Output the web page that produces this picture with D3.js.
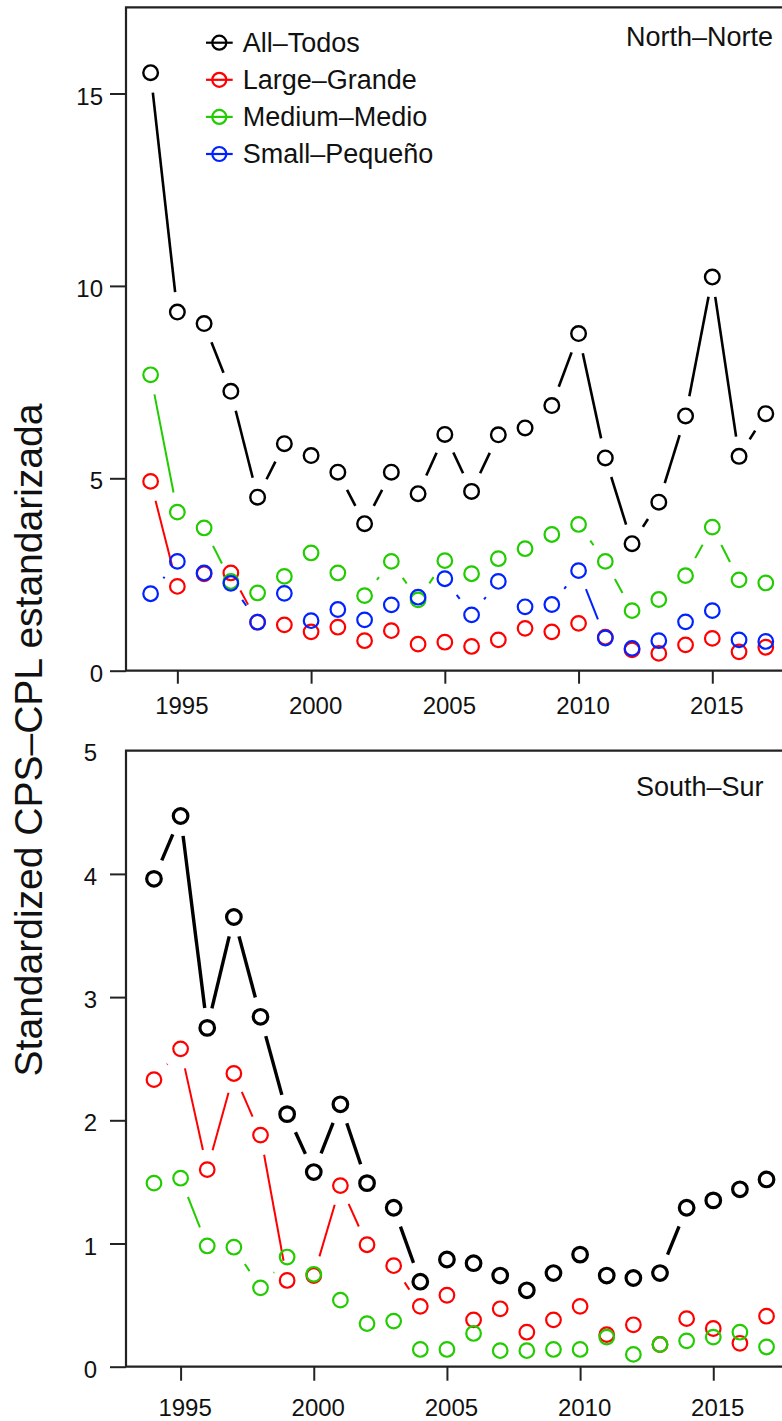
<!DOCTYPE html>
<html>
<head>
<meta charset="utf-8">
<script src="https://cdn.jsdelivr.net/npm/d3@7"></script>
<style>
  html, body { margin: 0; padding: 0; background: #fff; }
  svg { display: block; font-family: "Liberation Sans", Arial, Helvetica, sans-serif; }
</style>
</head>
<body>
<svg id="chart" width="782" height="1421"></svg>
<script>
// Years of the standardized CPUE series
const years = [1994, 1995, 1996, 1997, 1998, 1999, 2000, 2001, 2002, 2003, 2004, 2005,
               2006, 2007, 2008, 2009, 2010, 2011, 2012, 2013, 2014, 2015, 2016, 2017];

// North–Norte
const northAll    = [15.54, 9.32, 9.02, 7.26, 4.51, 5.90, 5.59, 5.16, 3.82, 5.16, 4.60, 6.14,
                     4.66, 6.13, 6.31, 6.89, 8.76, 5.53, 3.30, 4.38, 6.62, 10.23, 5.57, 6.68];
const northLarge  = [4.92, 2.19, 2.52, 2.54, 1.26, 1.19, 1.01, 1.13, 0.78, 1.04, 0.69, 0.74,
                     0.63, 0.80, 1.10, 1.01, 1.23, 0.87, 0.54, 0.45, 0.67, 0.84, 0.49, 0.61];
const northMedium = [7.69, 4.12, 3.71, 2.32, 2.02, 2.45, 3.06, 2.54, 1.95, 2.84, 1.84, 2.86,
                     2.52, 2.91, 3.17, 3.54, 3.80, 2.84, 1.56, 1.85, 2.47, 3.73, 2.36, 2.28];
const northSmall  = [2.00, 2.84, 2.54, 2.27, 1.26, 2.01, 1.30, 1.59, 1.32, 1.71, 1.91, 2.39,
                     1.45, 2.32, 1.66, 1.72, 2.60, 0.85, 0.58, 0.78, 1.27, 1.56, 0.80, 0.76];

// South–Sur
const southAll    = [3.96, 4.47, 2.75, 3.65, 2.84, 2.05, 1.58, 2.13, 1.49, 1.29, 0.69, 0.87,
                     0.84, 0.74, 0.62, 0.76, 0.91, 0.74, 0.72, 0.76, 1.29, 1.35, 1.44, 1.52];
const southLarge  = [2.33, 2.58, 1.60, 2.38, 1.88, 0.70, 0.74, 1.47, 0.99, 0.82, 0.49, 0.58,
                     0.38, 0.47, 0.28, 0.38, 0.49, 0.26, 0.34, 0.18, 0.39, 0.31, 0.19, 0.41];
const southMedium = [1.49, 1.53, 0.98, 0.97, 0.64, 0.89, 0.75, 0.54, 0.35, 0.37, 0.14, 0.14,
                     0.27, 0.13, 0.13, 0.14, 0.14, 0.24, 0.10, 0.18, 0.21, 0.24, 0.28, 0.16];

const legendLabels = ["All\u2013Todos", "Large\u2013Grande", "Medium\u2013Medio", "Small\u2013Peque\u00f1o"];
const seriesColors = ["#000000", "#ff0000", "#22cc00", "#0022ff"];

const xTicks = [1995, 2000, 2005, 2010, 2015];
const northYTicks = [0, 5, 10, 15];
const southYTicks = [0, 1, 2, 3, 4];
const yTitle = "Standardized CPS\u2013CPL estandarizada";

const svg = d3.select("#chart");
svg.append("rect").attr("width", 782).attr("height", 1421).attr("fill", "#fff");

const GAP = 20;      // distance kept clear around each point (type "b" style)
const R = 7.3;       // point radius

function drawSeries(g, x, y, values, color, lw, pw) {
  const pts = values.map((v, i) => [x(years[i]), y(v)]);
  // gapped connecting segments
  for (let i = 0; i < pts.length - 1; i++) {
    const [x0, y0] = pts[i], [x1, y1] = pts[i + 1];
    const dx = x1 - x0, dy = y1 - y0, L = Math.hypot(dx, dy);
    if (L <= 2 * GAP) continue;
    const ux = dx / L, uy = dy / L;
    g.append("line")
      .attr("x1", x0 + ux * GAP).attr("y1", y0 + uy * GAP)
      .attr("x2", x1 - ux * GAP).attr("y2", y1 - uy * GAP)
      .attr("stroke", color).attr("stroke-width", lw).attr("stroke-linecap", "butt");
  }
  g.selectAll(null).data(pts).enter().append("circle")
    .attr("cx", d => d[0]).attr("cy", d => d[1]).attr("r", R)
    .attr("fill", "none").attr("stroke", color).attr("stroke-width", pw);
}

function drawPanel(opt) {
  const g = svg.append("g");
  const x = d3.scaleLinear().domain(opt.xDomain).range([126, opt.xRight]);
  const y = d3.scaleLinear().domain(opt.yDomain).range([opt.bottom, opt.top]);

  // box
  g.append("path")
    .attr("d", `M${opt.xRight + 10},${opt.top}H126V${opt.bottom}H${opt.xRight + 10}`)
    .attr("fill", "none").attr("stroke", "#222").attr("stroke-width", 2.2);

  // y axis
  const ya = g.append("g").attr("transform", "translate(126,0)")
    .call(d3.axisLeft(y).tickValues(opt.yTicks).tickSize(16).tickPadding(opt.yPad).tickFormat(d3.format("d")));
  ya.select(".domain").remove();
  ya.selectAll(".tick line").attr("stroke", "#222").attr("stroke-width", 2);
  ya.selectAll(".tick text").attr("font-size", 24).attr("fill", "#111").attr("dy", "0.44em")
    .attr("font-family", "'Liberation Sans', Arial, sans-serif");
  if (opt.extraYLabel !== undefined) {
    g.append("text").attr("x", 126 - 16 - opt.yPad).attr("y", y(opt.extraYLabel))
      .attr("dy", "0.44em").attr("text-anchor", "end").attr("font-size", 24).attr("fill", "#111")
      .text(opt.extraYLabel);
  }

  // x axis
  const xa = g.append("g").attr("transform", `translate(0,${opt.bottom})`)
    .call(d3.axisBottom(x).tickValues(xTicks).tickSize(opt.xTick).tickPadding(opt.xPad).tickFormat(d3.format("d")));
  xa.select(".domain").remove();
  xa.selectAll(".tick line").attr("stroke", "#222").attr("stroke-width", 2);
  xa.selectAll(".tick text").attr("font-size", 24).attr("fill", "#111").attr("dx", 4)
    .attr("font-family", "'Liberation Sans', Arial, sans-serif");

  // series (drawn in legend order so smaller size classes sit on top)
  opt.series.forEach((s, i) => drawSeries(g, x, y, s, seriesColors[i], i === 0 ? opt.blackLw : 2, i === 0 ? opt.blackPw : 2.2));

  // region label
  g.append("text").attr("x", opt.labelX).attr("y", opt.labelY)
    .attr("font-size", 27).attr("fill", "#111").text(opt.label);
  return g;
}

// North–Norte panel
const north = drawPanel({
  xDomain: [1993.08, 2017.92], xRight: 790.4,
  yDomain: [0, 17.24], top: 7.3, bottom: 670.7,
  yTicks: northYTicks, yPad: 7, xTick: 13, xPad: 13,
  series: [northAll, northLarge, northMedium, northSmall],
  blackLw: 2.6, blackPw: 2.4,
  label: "North\u2013Norte", labelX: 626, labelY: 46
});

// South–Sur panel
drawPanel({
  xDomain: [1992.95, 2018.05], xRight: 794.5,
  yDomain: [0, 5], top: 750.7, bottom: 1366.7,
  yTicks: southYTicks, yPad: 13, xTick: 14, xPad: 18,
  extraYLabel: 5,
  series: [southAll, southLarge, southMedium],
  blackLw: 3.4, blackPw: 3.2,
  label: "South\u2013Sur", labelX: 636, labelY: 796
});

// legend (north panel)
const leg = svg.append("g");
legendLabels.forEach((t, i) => {
  const cy = 42.7 + i * 37.1;
  leg.append("line").attr("x1", 206).attr("x2", 232.7).attr("y1", cy).attr("y2", cy)
    .attr("stroke", seriesColors[i]).attr("stroke-width", 2.2);
  leg.append("circle").attr("cx", 219.3).attr("cy", cy).attr("r", 7)
    .attr("fill", "none").attr("stroke", seriesColors[i]).attr("stroke-width", 2.2);
  leg.append("text").attr("x", 242.7).attr("y", cy + 9.2)
    .attr("font-size", 27).attr("fill", "#111").text(t);
});

// shared y-axis title
svg.append("text")
  .attr("transform", "translate(42,740) rotate(-90)")
  .attr("text-anchor", "middle").attr("font-size", 39).attr("fill", "#111")
  .text(yTitle);
</script>
</body>
</html>
